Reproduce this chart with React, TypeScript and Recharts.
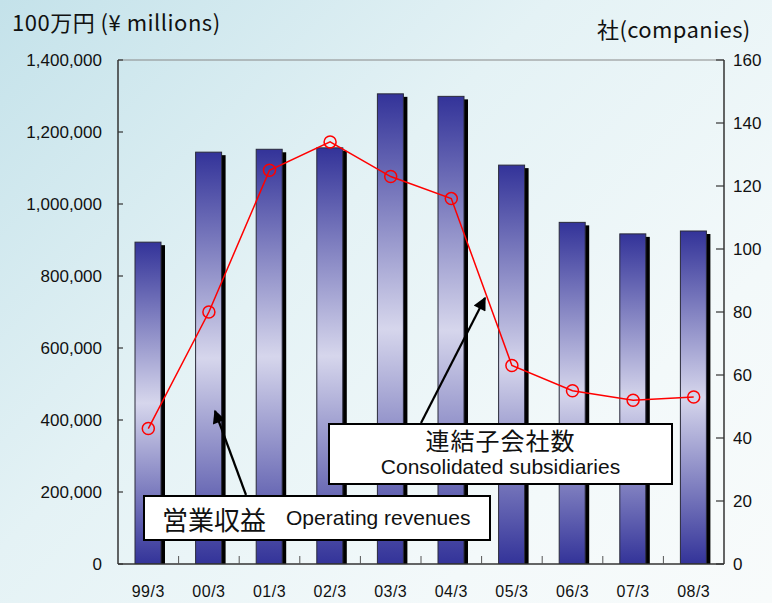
import React from "react";
import {
  ComposedChart,
  Bar,
  Line,
  XAxis,
  YAxis,
  ReferenceLine,
} from "recharts";

const FISCAL_YEARS = ["99/3", "00/3", "01/3", "02/3", "03/3", "04/3", "05/3", "06/3", "07/3", "08/3"];
// 営業収益 (100万円)
const OPERATING_REVENUES = [894000, 1144000, 1152000, 1156000, 1306000, 1299000, 1108000, 949000, 917000, 925000];
// 連結子会社数 (社)
const SUBSIDIARIES = [43, 80, 125, 134, 123, 116, 63, 55, 52, 53];

const LEFT_TICKS = [0, 200000, 400000, 600000, 800000, 1000000, 1200000, 1400000];
const RIGHT_TICKS = [0, 20, 40, 60, 80, 100, 120, 140, 160];

const FONT = '"Liberation Sans", Arial, "Noto Sans CJK JP", sans-serif';
const CJK_FONT = '"Noto Sans CJK JP", "Liberation Sans", sans-serif';

const PLOT_LEFT = 118;
const PLOT_RIGHT = 724;
const PLOT_TOP = 60;
const PLOT_BOTTOM = 564;
const BAND = (PLOT_RIGHT - PLOT_LEFT) / FISCAL_YEARS.length;

const chartData = FISCAL_YEARS.map((year, i) => ({
  year,
  revenue: OPERATING_REVENUES[i],
  subsidiaries: SUBSIDIARIES[i],
}));

function ShadowBar(props: any) {
  const { x, y, width, height } = props;
  if (!height || height <= 0) return null;
  return (
    <g>
      <rect x={x + 4} y={y + 3} width={width} height={height - 3} fill="#000" />
      <rect x={x} y={y} width={width} height={height} fill="url(#barFill)" stroke="#2a2a3a" strokeWidth={1} />
    </g>
  );
}

function LeftTick({ x, y, payload }: any) {
  return (
    <g>
      <line x1={PLOT_LEFT} x2={PLOT_LEFT + 5} y1={y} y2={y} stroke="#333" strokeWidth={1.2} />
      <text x={x} y={y} dy="0.36em" textAnchor="end" fontSize={17} fill="#111" fontFamily={FONT}>
        {payload.value.toLocaleString("en-US")}
      </text>
    </g>
  );
}

function RightTick({ x, y, payload }: any) {
  return (
    <g>
      <line x1={PLOT_RIGHT} x2={PLOT_RIGHT - 8} y1={y} y2={y} stroke="#333" strokeWidth={1.2} />
      <text x={x} y={y} dy="0.36em" textAnchor="start" fontSize={17} fill="#111" fontFamily={FONT}>
        {payload.value}
      </text>
    </g>
  );
}

function YearTick({ x, y, payload, index }: any) {
  const boundary = x - BAND / 2;
  return (
    <g>
      {index > 0 && (
        <line x1={boundary} x2={boundary} y1={PLOT_BOTTOM} y2={PLOT_BOTTOM - 8} stroke="#555" strokeWidth={1} />
      )}
      <text x={x} y={y} dy="0.71em" textAnchor="middle" fontSize={16} fill="#111" fontFamily={FONT} letterSpacing={0.5}>
        {payload.value}
      </text>
    </g>
  );
}

const boxStyle: React.CSSProperties = {
  position: "absolute",
  background: "#fff",
  border: "2px solid #000",
  boxSizing: "border-box",
  color: "#111",
};

export default function App() {
  return (
    <div
      style={{
        position: "absolute",
        left: 0,
        top: 0,
        width: 772,
        height: 603,
        overflow: "hidden",
        background: "linear-gradient(135deg, #c4e2ea 0%, #e4f2f5 40%, #f3f9fa 75%, #f8fbfb 100%)",
        fontFamily: FONT,
      }}
    >
      <div style={{ position: "absolute", left: 12, top: 5, fontSize: 22, color: "#111", fontFamily: CJK_FONT, letterSpacing: 0.5 }}>
        100万円 (¥ millions)
      </div>
      <div style={{ position: "absolute", left: 597, top: 12, fontSize: 22, color: "#111", fontFamily: CJK_FONT, letterSpacing: 0.4 }}>
        社(companies)
      </div>

      <div style={{ position: "absolute", left: 0, top: 0 }}>
        <ComposedChart
          width={772}
          height={603}
          data={chartData}
          margin={{ top: PLOT_TOP, right: 0, bottom: 0, left: 0 }}
        >
          <defs>
            <linearGradient id="barFill" x1="0" y1="0" x2="0" y2="1">
              <stop offset="0%" stopColor="#333399" />
              <stop offset="50%" stopColor="#d6d6ec" />
              <stop offset="100%" stopColor="#333399" />
            </linearGradient>
          </defs>
          <XAxis
            dataKey="year"
            height={603 - PLOT_BOTTOM}
            axisLine={{ stroke: "#333", strokeWidth: 1.5 }}
            tickLine={false}
            tickSize={0}
            tickMargin={22}
            interval={0}
            tick={<YearTick />}
          />
          <YAxis
            yAxisId="left"
            orientation="left"
            width={PLOT_LEFT}
            domain={[0, 1400000]}
            ticks={LEFT_TICKS}
            allowDataOverflow
            axisLine={{ stroke: "#333", strokeWidth: 1.5 }}
            tickLine={false}
            tickSize={0}
            tickMargin={16}
            tick={<LeftTick />}
          />
          <YAxis
            yAxisId="right"
            orientation="right"
            width={772 - PLOT_RIGHT}
            domain={[0, 160]}
            ticks={RIGHT_TICKS}
            allowDataOverflow
            axisLine={{ stroke: "#333", strokeWidth: 1.5 }}
            tickLine={false}
            tickSize={0}
            tickMargin={9}
            tick={<RightTick />}
          />
          <ReferenceLine yAxisId="left" y={1400000} stroke="#888" strokeWidth={1} />
          <Bar
            yAxisId="left"
            dataKey="revenue"
            barSize={26}
            shape={<ShadowBar />}
            isAnimationActive={false}
          />
          <Line
            yAxisId="right"
            dataKey="subsidiaries"
            type="linear"
            stroke="#ff0000"
            strokeWidth={1.5}
            dot={{ r: 6, stroke: "#ff0000", strokeWidth: 1.5, fill: "none" }}
            activeDot={false}
            isAnimationActive={false}
          />
        </ComposedChart>
      </div>

      <svg width={772} height={603} style={{ position: "absolute", left: 0, top: 0, pointerEvents: "none" }}>
        <defs>
          <marker id="arrowHead" viewBox="0 0 10 10" refX="9" refY="5" markerWidth="7" markerHeight="6" orient="auto" markerUnits="strokeWidth">
            <path d="M0,0 L10,5 L0,10 z" fill="#000" />
          </marker>
        </defs>
        <line x1={246} y1={495} x2={215} y2={411} stroke="#000" strokeWidth={2.2} markerEnd="url(#arrowHead)" />
        <line x1={421} y1={423} x2={485} y2={298} stroke="#000" strokeWidth={2.2} markerEnd="url(#arrowHead)" />
      </svg>

      <div style={{ ...boxStyle, left: 328, top: 423, width: 345, height: 62, textAlign: "center" }}>
        <div style={{ fontFamily: CJK_FONT, fontSize: 24, lineHeight: "28px", marginTop: 1, letterSpacing: 1 }}>連結子会社数</div>
        <div style={{ fontFamily: FONT, fontSize: 21, lineHeight: "26px" }}>Consolidated subsidiaries</div>
      </div>
      <div style={{ ...boxStyle, left: 143, top: 495, width: 348, height: 46, display: "flex", alignItems: "center" }}>
        <span style={{ fontFamily: CJK_FONT, fontSize: 26, marginLeft: 17 }}>営業収益</span>
        <span style={{ fontFamily: FONT, fontSize: 21, marginLeft: 20 }}>Operating revenues</span>
      </div>
    </div>
  );
}
